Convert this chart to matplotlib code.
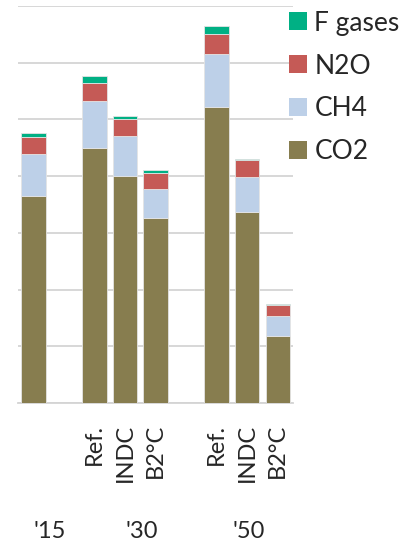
import matplotlib
matplotlib.use("Agg")
import matplotlib.pyplot as plt
from matplotlib.patches import Patch
import numpy as np

plt.rcParams['font.family'] = ['Lato', 'DejaVu Sans']

# Bar slots (empty strings are spacer slots between year groups)
scenarios = ["", "", "Ref.", "INDC", "B2°C", "", "Ref.", "INDC", "B2°C"]
slot_has_bar = [True, False, True, True, True, False, True, True, True]
years = ["'15", "'30", "'50"]

# Emissions per bar (2015, 2030 Ref/INDC/B2°C, 2050 Ref/INDC/B2°C)
co2 = [3.65, 4.49, 4.01, 3.27, 5.22, 3.36, 1.18]
ch4 = [0.74, 0.84, 0.70, 0.50, 0.94, 0.62, 0.35]
n2o = [0.30, 0.32, 0.30, 0.28, 0.35, 0.30, 0.19]
fgas = [0.07, 0.11, 0.05, 0.05, 0.14, 0.02, 0.03]

colors = {"CO2": "#877d4f", "CH4": "#bdd0e8", "N2O": "#c55a56", "F gases": "#00b084"}

fig = plt.figure(figsize=(4.13, 5.46), dpi=100)
ax = fig.add_axes([18 / 413, (546 - 403) / 546, 275 / 413, 397 / 546])

x = np.array([i for i, b in enumerate(slot_has_bar) if b])
bottom = np.zeros(len(x))
for name, vals in [("CO2", co2), ("CH4", ch4), ("N2O", n2o), ("F gases", fgas)]:
    ax.bar(x, vals, 0.8, bottom=bottom, color=colors[name],
           edgecolor="#e4e4e4", linewidth=0.6, zorder=3)
    bottom += np.array(vals)

ax.set_xlim(-0.5, 8.5)
ax.set_ylim(0, 7)
ax.set_yticks(np.arange(0, 8, 1))
ax.yaxis.grid(True, color="#d4d4d4", linewidth=1.3, zorder=0)
ax.tick_params(left=False, labelleft=False, bottom=False, labelbottom=False)
for s in ["top", "right", "left"]:
    ax.spines[s].set_visible(False)
ax.spines["bottom"].set_color("#d4d4d4")
ax.spines["bottom"].set_linewidth(1.3)

# Scenario labels, rotated, top-aligned under the bars
for i, lab in enumerate(scenarios):
    if lab:
        ax.text(i, -0.37, lab, rotation=90, ha="center", va="top",
                fontsize=17, color="#262626")

# Year labels
for xp, yr in zip([0.55, 3.55, 7.05], years):
    ax.text(xp, -2.27, yr, ha="center", va="center", fontsize=17, color="#262626")

handles = [Patch(facecolor=colors[n], edgecolor="none") for n in ["F gases", "N2O", "CH4", "CO2"]]
fig.legend(handles, ["F gases", "N2O", "CH4", "CO2"], loc="upper left",
           bbox_to_anchor=(278 / 413, 1.0), frameon=False, fontsize=19,
           handlelength=0.68, handleheight=0.68, handletextpad=0.3,
           labelspacing=0.68, labelcolor="#262626", borderaxespad=0)

fig.savefig("out.png", dpi=100)
